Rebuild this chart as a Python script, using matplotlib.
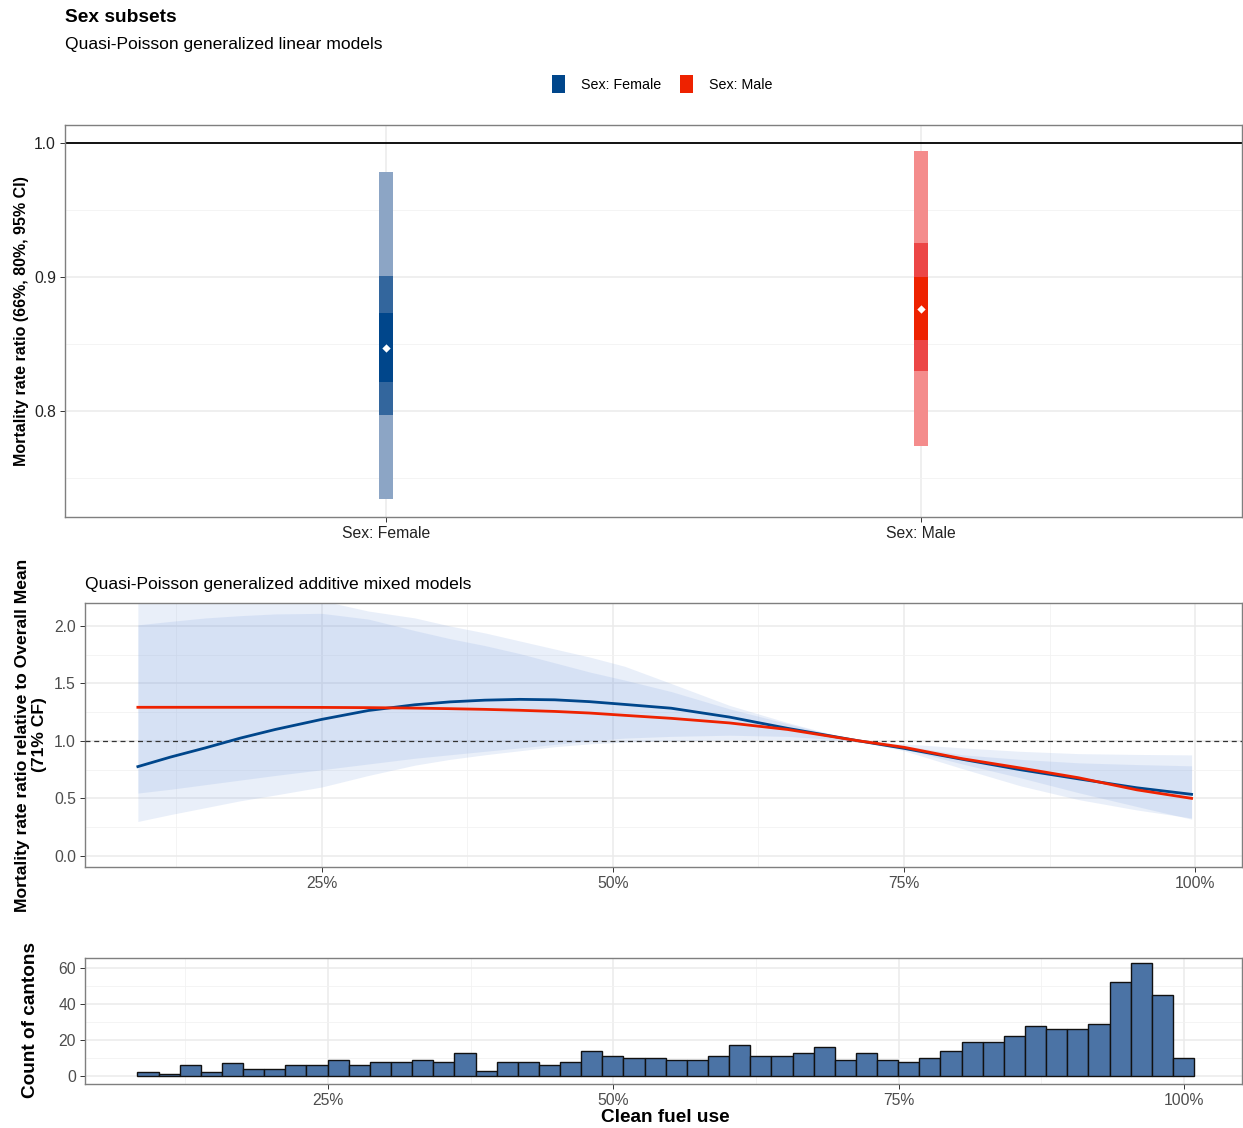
import numpy as np
import matplotlib
matplotlib.use('Agg')
import matplotlib.pyplot as plt
from matplotlib.patches import Patch

plt.rcParams['font.family'] = ['Liberation Sans', 'DejaVu Sans']

# ---- top panel: GLM rate ratios with 66/80/95% intervals ----
sexes = ['Sex: Female', 'Sex: Male']
est = [0.847, 0.876]
ci95_lo = [0.734, 0.774]
ci95_hi = [0.978, 0.994]
ci80_lo = [0.797, 0.830]
ci80_hi = [0.901, 0.925]
ci66_lo = [0.822, 0.853]
ci66_hi = [0.873, 0.900]
sex_cols = ['#00468B', '#EE2200']
col95 = ['#8CA5C5', '#F48C8C']
col80 = ['#33669D', '#EC4646']

# ---- middle panel: GAMM smooths relative to 71% clean fuel ----
cf_x = [0.092, 0.12, 0.15, 0.18, 0.21, 0.25, 0.29, 0.33, 0.36, 0.39, 0.42, 0.45,
        0.48, 0.51, 0.55, 0.60, 0.65, 0.71, 0.75, 0.80, 0.85, 0.90, 0.95, 0.997]
fem_fit = [0.777, 0.86, 0.94, 1.025, 1.10, 1.188, 1.265, 1.315, 1.340, 1.355, 1.362, 1.358,
           1.342, 1.318, 1.285, 1.208, 1.11, 1.003, 0.936, 0.841, 0.75, 0.67, 0.593, 0.536]
fem_lo = [0.30, 0.36, 0.42, 0.48, 0.53, 0.60, 0.70, 0.79, 0.84, 0.88, 0.915, 0.95,
          0.975, 0.99, 1.0, 1.01, 1.01, 1.0, 0.915, 0.76, 0.61, 0.49, 0.40, 0.33]
fem_hi = [2.01, 2.04, 2.07, 2.09, 2.105, 2.11, 2.06, 1.96, 1.89, 1.83, 1.76, 1.68,
          1.60, 1.53, 1.43, 1.28, 1.15, 1.0, 0.975, 0.94, 0.91, 0.89, 0.883, 0.879]
male_fit = [1.293, 1.293, 1.293, 1.293, 1.293, 1.292, 1.29, 1.286, 1.281, 1.275, 1.267, 1.257,
            1.243, 1.223, 1.197, 1.157, 1.10, 1.003, 0.945, 0.846, 0.765, 0.68, 0.575, 0.501]
male_lo = [0.547, 0.58, 0.62, 0.66, 0.70, 0.75, 0.80, 0.85, 0.88, 0.91, 0.94, 0.97,
           1.0, 1.025, 1.04, 1.05, 1.04, 1.0, 0.93, 0.80, 0.68, 0.55, 0.43, 0.32]
male_hi = [3.0, 2.9, 2.75, 2.6, 2.42, 2.22, 2.13, 2.07, 2.0, 1.94, 1.87, 1.80,
           1.73, 1.65, 1.50, 1.31, 1.16, 1.0, 0.96, 0.88, 0.84, 0.81, 0.795, 0.784]

# ---- bottom panel: histogram of clean fuel use (50 bins) ----
cf_range = (0.0832, 1.0088)
counts = [2, 1, 6, 2, 7, 4, 4, 6, 6, 9, 6, 8, 8, 9, 8, 13, 3, 8, 8, 6, 8, 14, 11, 10, 10,
          9, 9, 11, 17, 11, 11, 13, 16, 9, 13, 9, 8, 10, 14, 19, 19, 22, 28, 26, 26,
          29, 52, 63, 45, 10]

pct_ticks = [0.25, 0.5, 0.75, 1.0]
pct_labels = ['25%', '50%', '75%', '100%']

W, H = 1243, 1128
fig = plt.figure(figsize=(W / 100, H / 100), dpi=100)


def box(l, t, r, b):
    return [l / W, 1 - b / H, (r - l) / W, (b - t) / H]


def style(ax, tcol='#4D4D4D', fs=11.3):
    ax.set_facecolor('white')
    for s in ax.spines.values():
        s.set_color('#7F7F7F')
        s.set_linewidth(1.0)
    ax.grid(which='major', color='#EBEBEB', lw=1.1, zorder=0)
    ax.grid(which='minor', color='#F2F2F2', lw=0.6, zorder=0)
    ax.set_axisbelow(True)
    ax.tick_params(which='major', length=3.5, width=0.7, color='#333333',
                   labelsize=fs, labelcolor=tcol, pad=3)
    ax.tick_params(which='minor', length=0)


# top
ax1 = fig.add_axes(box(65, 125, 1242, 517))
style(ax1, tcol='#222222')
xpos = np.arange(1, len(sexes) + 1)
bw = 0.026
for i in range(len(sexes)):
    ax1.bar(xpos[i], ci95_hi[i] - ci95_lo[i], bottom=ci95_lo[i], width=bw, color=col95[i], lw=0, zorder=3)
    ax1.bar(xpos[i], ci80_hi[i] - ci80_lo[i], bottom=ci80_lo[i], width=bw, color=col80[i], lw=0, zorder=3)
    ax1.bar(xpos[i], ci66_hi[i] - ci66_lo[i], bottom=ci66_lo[i], width=bw, color=sex_cols[i], lw=0, zorder=3)
ax1.scatter(xpos, est, marker='D', s=18, color='white', zorder=5, lw=0)
ax1.axhline(1.0, color='black', lw=1.3, zorder=2)
ax1.set_xlim(0.4, 2.6)
ax1.set_ylim(0.7209, 1.0134)
ax1.set_xticks(xpos)
ax1.set_xticklabels(sexes)
ax1.set_yticks([0.8, 0.9, 1.0])
ax1.set_yticklabels(['0.8', '0.9', '1.0'])
ax1.set_yticks([0.75, 0.85, 0.95], minor=True)

# middle
band_col = '#6E96DC'
ax2 = fig.add_axes(box(85, 603, 1242, 867))
style(ax2)
ax2.fill_between(cf_x, fem_lo, fem_hi, color=band_col, alpha=0.15, lw=0, zorder=2)
ax2.fill_between(cf_x, male_lo, male_hi, color=band_col, alpha=0.15, lw=0, zorder=2)
ax2.axhline(1.0, color='#333333', lw=0.9, ls=(0, (4, 3)), zorder=3)
ax2.plot(cf_x, fem_fit, color=sex_cols[0], lw=2.0, zorder=4)
ax2.plot(cf_x, male_fit, color=sex_cols[1], lw=2.0, zorder=5)
ax2.set_xlim(0.0466, 1.0403)
ax2.set_ylim(-0.096, 2.2)
ax2.set_xticks(pct_ticks)
ax2.set_xticklabels(pct_labels)
ax2.set_xticks([0.125, 0.375, 0.625, 0.875], minor=True)
ax2.set_yticks([0, 0.5, 1.0, 1.5, 2.0])
ax2.set_yticklabels(['0.0', '0.5', '1.0', '1.5', '2.0'])
ax2.set_yticks([0.25, 0.75, 1.25, 1.75], minor=True)

# bottom
ax3 = fig.add_axes(box(85, 958, 1242, 1084))
style(ax3)
edges = np.linspace(cf_range[0], cf_range[1], len(counts) + 1)
ax3.bar(edges[:-1], counts, width=np.diff(edges), align='edge', color='#4B73A5',
        edgecolor='#111111', lw=1.0, zorder=3)
ax3.set_xlim(0.0373, 1.0508)
ax3.set_ylim(-4.4, 65.6)
ax3.set_xticks(pct_ticks)
ax3.set_xticklabels(pct_labels)
ax3.set_xticks([0.125, 0.375, 0.625, 0.875], minor=True)
ax3.set_yticks([0, 20, 40, 60])
ax3.set_yticks([10, 30, 50], minor=True)

# titles and labels
fig.text(65 / W, 1 - 17 / H, 'Sex subsets', fontsize=13.8, fontweight='bold', ha='left', va='center')
fig.text(65 / W, 1 - 44 / H, 'Quasi-Poisson generalized linear models', fontsize=12.6, ha='left', va='center')
fig.text(85 / W, 1 - 584 / H, 'Quasi-Poisson generalized additive mixed models', fontsize=12.6, ha='left', va='center')
fig.text(22 / W, 1 - 321 / H, 'Mortality rate ratio (66%, 80%, 95% CI)', fontsize=11.5,
         fontweight='bold', rotation=90, ha='center', va='center')
fig.text(31 / W, 1 - 735 / H, 'Mortality rate ratio relative to Overall Mean\n(71% CF)', fontsize=12.6,
         fontweight='bold', rotation=90, ha='center', va='center', multialignment='center', linespacing=1.1)
fig.text(31 / W, 1 - 1020 / H, 'Count of cantons', fontsize=13.7, fontweight='bold',
         rotation=90, ha='center', va='center')
fig.text(665 / W, 1 - 1117 / H, 'Clean fuel use', fontsize=13.7, fontweight='bold', ha='center', va='center')

handles = [Patch(facecolor=c, edgecolor='none') for c in sex_cols]
fig.legend(handles, sexes, loc='center', bbox_to_anchor=(662 / W, 1 - 84 / H), ncol=2, frameon=False,
           fontsize=10.3, handlelength=0.95, handleheight=1.5, handletextpad=1.1, columnspacing=1.3)

fig.savefig('out.png', dpi=100)
